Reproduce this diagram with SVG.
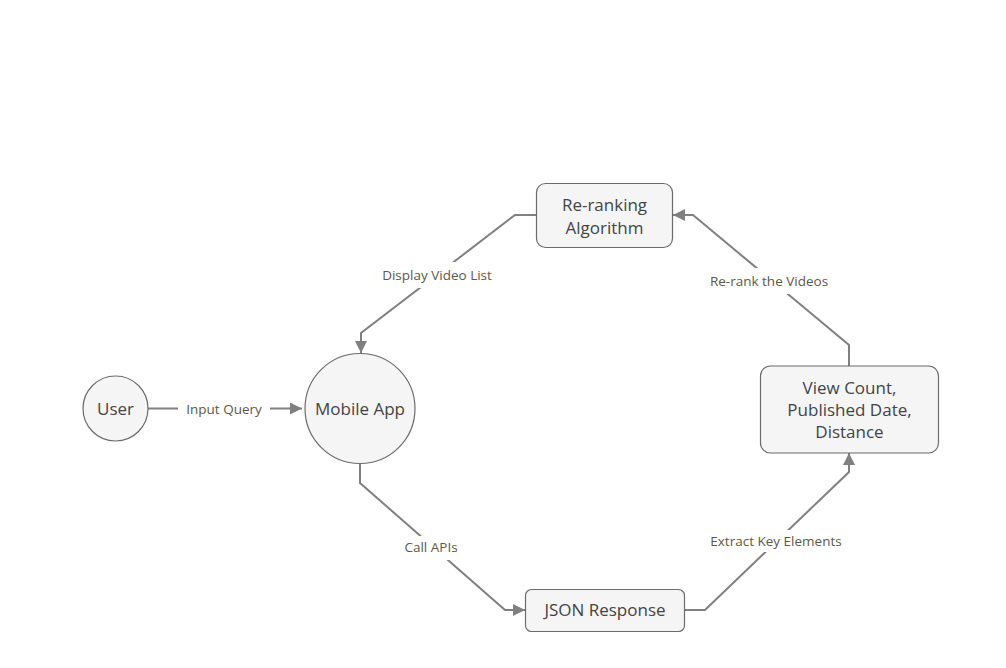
<svg xmlns="http://www.w3.org/2000/svg" width="1006" height="668" viewBox="0 0 1006 668">
<defs>
<style>
.node{fill:#f5f5f5;stroke:#6b6b6b;stroke-width:1.2}
.nt{font-family:"Open Sans","Noto Sans",sans-serif;font-size:17px;fill:#444;text-anchor:middle}
.edge{fill:none;stroke:#808080;stroke-width:2}
.lbg{fill:#fff}
.lt{font-family:"Open Sans","Noto Sans",sans-serif;font-size:13.5px;fill:#5c5a46;text-anchor:middle}
</style>
<marker id="arr" viewBox="0 0 12 12" refX="12" refY="6" markerWidth="12" markerHeight="12" markerUnits="userSpaceOnUse" orient="auto">
<path d="M0,0 L12,6 L0,12 z" fill="#808080"/>
</marker>
</defs>
<rect width="1006" height="668" fill="#fff"/>
<g id="connectors">
<path class="edge" d="M148,408.5 L302,408.5" marker-end="url(#arr)"/>
<path class="edge" d="M536,215 L515,215 L361,333 L361,353" marker-end="url(#arr)"/>
<path class="edge" d="M849,366 L849,345 L693,215 L673,215" marker-end="url(#arr)"/>
<path class="edge" d="M360,463 L360,483 L505,610 L525,610" marker-end="url(#arr)"/>
<path class="edge" d="M684,610 L705,610 L849,472 L849,453" marker-end="url(#arr)"/>
<rect class="lbg" x="178" y="398" width="92" height="22"/>
<text class="lt" x="224" y="413.5">Input Query</text>
<rect class="lbg" x="372" y="262" width="131" height="26"/>
<text class="lt" x="437" y="280">Display Video List</text>
<rect class="lbg" x="700" y="268" width="138" height="26"/>
<text class="lt" x="769" y="286">Re-rank the Videos</text>
<rect class="lbg" x="398" y="536" width="68" height="24"/>
<text class="lt" x="431" y="552">Call APIs</text>
<rect class="lbg" x="700" y="530" width="152" height="22"/>
<text class="lt" x="776" y="546">Extract Key Elements</text>
</g>
<g id="user">
<circle class="node" cx="115.5" cy="408.5" r="32.5"/>
<text class="nt" x="115.5" y="414.5">User</text>
</g>
<g id="mobile-app">
<circle class="node" cx="360" cy="408.5" r="55"/>
<text class="nt" x="360" y="414.5">Mobile App</text>
</g>
<g id="reranking">
<rect class="node" x="536.5" y="183.5" width="136" height="64" rx="9"/>
<text class="nt" x="604.5" y="210.5">Re-ranking</text>
<text class="nt" x="604.5" y="233.5">Algorithm</text>
</g>
<g id="view-count">
<rect class="node" x="760.5" y="366" width="178" height="87" rx="10"/>
<text class="nt" x="849.5" y="393.5">View Count,</text>
<text class="nt" x="849.5" y="415.5">Published Date,</text>
<text class="nt" x="849.5" y="437.5">Distance</text>
</g>
<g id="json">
<rect class="node" x="525.5" y="589.5" width="159" height="42" rx="6"/>
<text class="nt" x="605" y="616">JSON Response</text>
</g>
</svg>
